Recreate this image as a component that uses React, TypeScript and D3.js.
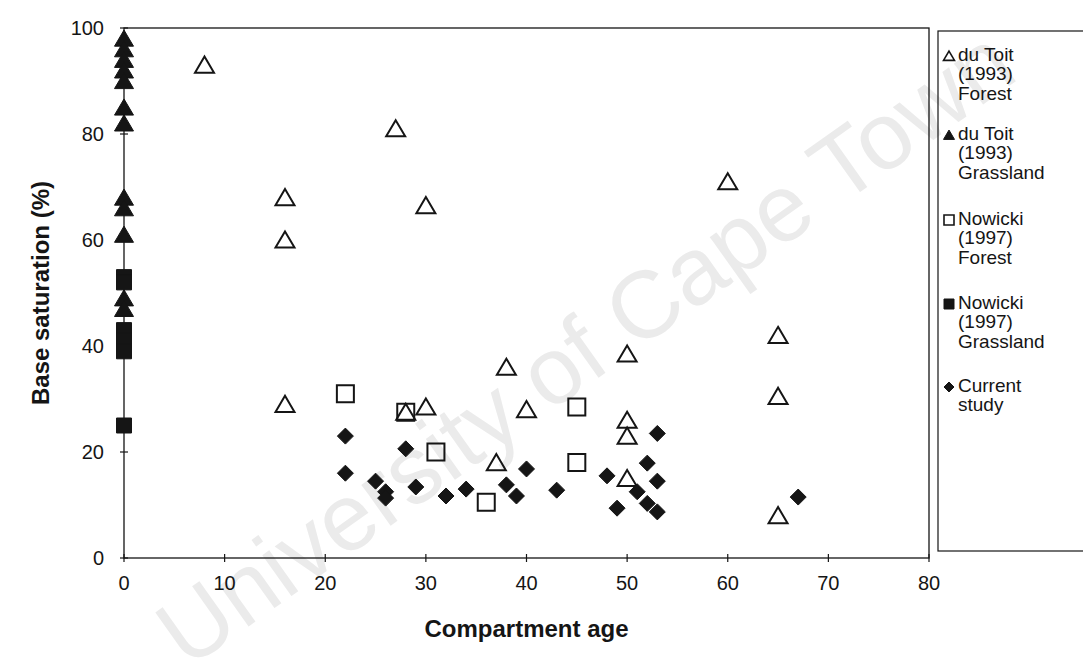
import React from "react";
import * as d3 from "d3";

// Axis ticks
const xTicks = [0, 10, 20, 30, 40, 50, 60, 70, 80];
const yTicks = [0, 20, 40, 60, 80, 100];

// du Toit (1993) Forest
const duToitForestAge = [8, 16, 16, 16, 27, 28, 30, 30, 37, 38, 40, 50, 50, 50, 50, 60, 65, 65, 65];
const duToitForestBS = [93, 68, 60, 29, 81, 27.5, 66.5, 28.5, 18, 36, 28, 38.5, 26, 23, 15, 71, 42, 30.5, 8];

// du Toit (1993) Grassland (all at age 0)
const duToitGrassAge = [0, 0, 0, 0, 0, 0, 0, 0, 0, 0, 0, 0];
const duToitGrassBS = [98, 96, 94, 92, 90, 85, 82, 68, 66, 61, 49, 47];

// Nowicki (1997) Forest
const nowickiForestAge = [22, 28, 31, 36, 45, 45];
const nowickiForestBS = [31, 27.5, 20, 10.5, 28.5, 18];

// Nowicki (1997) Grassland (all at age 0)
const nowickiGrassAge = [0, 0, 0, 0, 0, 0];
const nowickiGrassBS = [53, 52, 43, 41, 39, 25];

// Current study
const currentAge = [22, 22, 25, 26, 26, 28, 29, 32, 34, 38, 39, 40, 43, 48, 49, 51, 52, 52, 53, 53, 53, 67];
const currentBS = [23, 16, 14.5, 12.5, 11.3, 20.6, 13.4, 11.7, 13, 13.8, 11.7, 16.8, 12.8, 15.5, 9.4, 12.5, 17.9, 10.3, 8.7, 23.5, 14.5, 11.5];

const legendLabels = [
  ["du Toit", "(1993)", "Forest"],
  ["du Toit", "(1993)", "Grassland"],
  ["Nowicki", "(1997)", "Forest"],
  ["Nowicki", "(1997)", "Grassland"],
  ["Current", "study"],
];

type Shape = "triangle" | "square" | "diamond";

const INK = "#151515";

function markerPath(shape: Shape, s: number): string {
  const h = s / 2;
  const p = d3.path();
  if (shape === "triangle") {
    p.moveTo(0, -h * 0.9);
    p.lineTo(h, h * 0.8);
    p.lineTo(-h, h * 0.8);
    p.closePath();
  } else if (shape === "square") {
    p.rect(-h, -h, s, s);
  } else {
    p.moveTo(0, -h);
    p.lineTo(h, 0);
    p.lineTo(0, h);
    p.lineTo(-h, 0);
    p.closePath();
  }
  return p.toString();
}

const series: { ages: number[]; values: number[]; shape: Shape; filled: boolean; size: number }[] = [
  { ages: duToitForestAge, values: duToitForestBS, shape: "triangle", filled: false, size: 19 },
  { ages: duToitGrassAge, values: duToitGrassBS, shape: "triangle", filled: true, size: 19 },
  { ages: nowickiForestAge, values: nowickiForestBS, shape: "square", filled: false, size: 17 },
  { ages: nowickiGrassAge, values: nowickiGrassBS, shape: "square", filled: true, size: 15 },
  { ages: currentAge, values: currentBS, shape: "diamond", filled: true, size: 16 },
];

export default function App() {
  const W = 1083;
  const H = 658;
  const left = 124;
  const right = 929;
  const top = 28;
  const bottom = 558;

  const x = d3.scaleLinear().domain([0, 80]).range([left, right]);
  const y = d3.scaleLinear().domain([0, 100]).range([bottom, top]);

  const font = "Arial, 'Liberation Sans', Helvetica, sans-serif";

  const legendX = 938;
  const legendTop = 31;
  const legendBottom = 551;
  const groupTop = [54, 133, 218, 302, 385];
  const lineH = 19.5;

  return (
    <svg
      width={W}
      height={H}
      viewBox={`0 0 ${W} ${H}`}
      style={{ position: "absolute", left: 0, top: 0, background: "#fff" }}
    >
      <rect x={0} y={0} width={W} height={H} fill="#fff" />

      {/* faint diagonal watermark behind the plot */}
      <text
        x={0}
        y={0}
        transform="translate(585,347) rotate(-35.4)"
        textAnchor="middle"
        dominantBaseline="central"
        fontFamily={font}
        fontSize={95}
        fill="#ebebeb"
      >
        University of Cape Town
      </text>

      {/* plot frame */}
      <rect x={left} y={top} width={right - left} height={bottom - top} fill="none" stroke={INK} strokeWidth={1.3} />

      {/* y axis ticks and labels */}
      {yTicks.map((t) => (
        <g key={`y${t}`}>
          <line x1={left - 4} x2={left + 4} y1={y(t)} y2={y(t)} stroke={INK} strokeWidth={1.2} />
          <text
            x={left - 20}
            y={y(t)}
            textAnchor="end"
            dominantBaseline="central"
            fontFamily={font}
            fontSize={20}
            fill={INK}
          >
            {t}
          </text>
        </g>
      ))}

      {/* x axis ticks and labels */}
      {xTicks.map((t) => (
        <g key={`x${t}`}>
          <line x1={x(t)} x2={x(t)} y1={bottom - 4} y2={bottom + 4} stroke={INK} strokeWidth={1.2} />
          <text
            x={x(t)}
            y={bottom + 25}
            textAnchor="middle"
            dominantBaseline="central"
            fontFamily={font}
            fontSize={20}
            fill={INK}
          >
            {t}
          </text>
        </g>
      ))}

      {/* axis titles */}
      <text
        transform={`translate(40,${(top + bottom) / 2}) rotate(-90)`}
        textAnchor="middle"
        dominantBaseline="central"
        fontFamily={font}
        fontWeight="bold"
        fontSize={24}
        fill={INK}
      >
        Base saturation (%)
      </text>
      <text
        x={(left + right) / 2}
        y={628}
        textAnchor="middle"
        dominantBaseline="central"
        fontFamily={font}
        fontWeight="bold"
        fontSize={24}
        fill={INK}
      >
        Compartment age
      </text>

      {/* data markers */}
      {series.map((s, si) => (
        <g key={`s${si}`}>
          {s.ages.map((a, i) => (
            <path
              key={i}
              d={markerPath(s.shape, s.size)}
              transform={`translate(${x(a)},${y(s.values[i])})`}
              fill={s.filled ? INK : "none"}
              stroke={INK}
              strokeWidth={s.filled ? 1 : 2}
            />
          ))}
        </g>
      ))}

      {/* legend */}
      <rect
        x={legendX}
        y={legendTop}
        width={W - legendX + 10}
        height={legendBottom - legendTop}
        fill="none"
        stroke={INK}
        strokeWidth={1.2}
      />
      {series.map((s, si) => (
        <g key={`l${si}`}>
          <path
            d={markerPath(s.shape, s.shape === "triangle" ? 11 : 10)}
            transform={`translate(${legendX + 11},${groupTop[si] + 2})`}
            fill={s.filled ? INK : "none"}
            stroke={INK}
            strokeWidth={s.filled ? 1 : 1.6}
          />
          {legendLabels[si].map((ln, li) => (
            <text
              key={li}
              x={legendX + 20}
              y={groupTop[si] + li * lineH}
              dominantBaseline="central"
              fontFamily={font}
              fontSize={19}
              fill={INK}
            >
              {ln}
            </text>
          ))}
        </g>
      ))}
    </svg>
  );
}
